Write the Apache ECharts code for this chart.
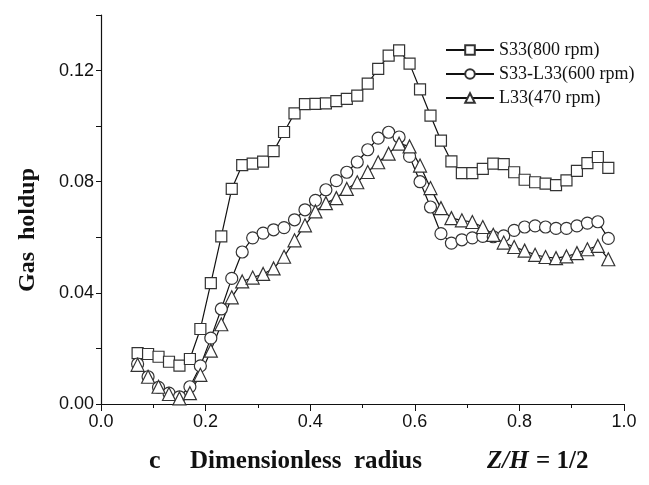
<!DOCTYPE html>
<html>
<head>
<meta charset="utf-8">
<script src="https://cdn.jsdelivr.net/npm/echarts@6/dist/echarts.min.js"></script>
<style>
  html, body { margin: 0; padding: 0; background: #fff; }
  #chart { width: 649px; height: 485px; }
</style>
</head>
<body>
<div id="chart"></div>
<script>
// Dimensionless radius (x) values, every 0.02
const radius = [0.07, 0.09, 0.11, 0.13, 0.15, 0.17, 0.19, 0.21, 0.23, 0.25,
  0.27, 0.29, 0.31, 0.33, 0.35, 0.37, 0.39, 0.41, 0.43, 0.45,
  0.47, 0.49, 0.51, 0.53, 0.55, 0.57, 0.59, 0.61, 0.63, 0.65,
  0.67, 0.69, 0.71, 0.73, 0.75, 0.77, 0.79, 0.81, 0.83, 0.85,
  0.87, 0.89, 0.91, 0.93, 0.95, 0.97];

// Gas holdup - S33(800 rpm)
const s33 = [0.0183, 0.0180, 0.0170, 0.0152, 0.0138, 0.0162, 0.0270, 0.0435, 0.0603, 0.0774,
  0.0860, 0.0865, 0.0872, 0.0910, 0.0979, 0.1046, 0.1079, 0.1080, 0.1082, 0.1090,
  0.1098, 0.1110, 0.1153, 0.1206, 0.1254, 0.1273, 0.1225, 0.1132, 0.1038, 0.0948,
  0.0873, 0.0831, 0.0831, 0.0846, 0.0865, 0.0863, 0.0834, 0.0807, 0.0798, 0.0793,
  0.0788, 0.0805, 0.0839, 0.0867, 0.0889, 0.0850];

// Gas holdup - S33-L33(600 rpm)
const s33l33 = [0.0144, 0.0098, 0.0060, 0.0039, 0.0026, 0.0062, 0.0137, 0.0237, 0.0342, 0.0452,
  0.0547, 0.0598, 0.0615, 0.0627, 0.0635, 0.0663, 0.0699, 0.0733, 0.0771, 0.0804,
  0.0834, 0.0871, 0.0915, 0.0957, 0.0978, 0.0961, 0.0891, 0.0800, 0.0709, 0.0613,
  0.0579, 0.0591, 0.0598, 0.0603, 0.0602, 0.0605, 0.0625, 0.0637, 0.0641, 0.0637,
  0.0632, 0.0632, 0.0641, 0.0651, 0.0656, 0.0596];

// Gas holdup - L33(470 rpm)
const l33 = [0.0141, 0.0098, 0.0062, 0.0036, 0.0020, 0.0039, 0.0105, 0.0192, 0.0287, 0.0384,
  0.0441, 0.0455, 0.0468, 0.0488, 0.0530, 0.0589, 0.0643, 0.0693, 0.0723, 0.0741,
  0.0774, 0.0798, 0.0835, 0.0870, 0.0901, 0.0937, 0.0927, 0.0858, 0.0777, 0.0705,
  0.0669, 0.0661, 0.0655, 0.0637, 0.0609, 0.0581, 0.0565, 0.0552, 0.0537, 0.0529,
  0.0525, 0.0531, 0.0543, 0.0557, 0.0569, 0.0521];

const seriesNames = ["S33(800 rpm)", "S33-L33(600 rpm)", "L33(470 rpm)"];

function pairs(ys) {
  return radius.map((x, i) => [x, ys[i]]);
}

function makeSeries(name, ys, symbol, size) {
  return {
    name: name,
    type: "line",
    data: pairs(ys),
    symbol: symbol,
    symbolSize: size,
    showAllSymbol: true,
    lineStyle: { color: "#111", width: 1.2 },
    itemStyle: { color: "#fff", borderColor: "#333", borderWidth: 1.2 },
    emphasis: { disabled: true }
  };
}

const chart = echarts.init(document.getElementById("chart"));
chart.setOption({
  animation: false,
  backgroundColor: "#fff",
  grid: { left: 101, right: 25, top: 15, bottom: 81 },
  legend: {
    orient: "vertical",
    left: 440,
    top: 36,
    itemWidth: 48,
    itemHeight: 12,
    itemGap: 6,
    data: seriesNames,
    textStyle: { fontFamily: "Liberation Serif", fontSize: 18, color: "#111" }
  },
  xAxis: {
    type: "value",
    min: 0,
    max: 1.0,
    interval: 0.2,
    axisLine: { lineStyle: { color: "#111", width: 1.2 } },
    axisTick: { length: 7, lineStyle: { color: "#111" } },
    minorTick: { show: true, splitNumber: 2, length: 4, lineStyle: { color: "#111" } },
    splitLine: { show: false },
    axisLabel: {
      fontFamily: "Liberation Sans", fontSize: 18, color: "#111", margin: 9,
      formatter: v => v.toFixed(1)
    }
  },
  yAxis: {
    type: "value",
    min: 0,
    max: 0.14,
    interval: 0.02,
    axisLine: { lineStyle: { color: "#111", width: 1.2 } },
    axisTick: { length: 5, lineStyle: { color: "#111" } },
    splitLine: { show: false },
    axisLabel: {
      fontFamily: "Liberation Sans", fontSize: 18, color: "#111", margin: 7,
      formatter: v => (Math.round(v * 100) % 4 === 0 && v < 0.135) ? v.toFixed(2) : ""
    }
  },
  graphic: [
    { type: "text", x: 28, y: 230, rotation: Math.PI / 2,
      style: { text: "Gas  holdup", font: "bold 24px 'Liberation Serif'", fill: "#111",
               align: "center", verticalAlign: "middle" } },
    { type: "text", left: 149, top: 448,
      style: { text: "c", font: "bold 26px 'Liberation Serif'", fill: "#111" } },
    { type: "text", left: 190, top: 449,
      style: { text: "Dimensionless  radius", font: "bold 25px 'Liberation Serif'", fill: "#111" } },
    { type: "text", left: 487, top: 449,
      style: { text: "Z/H", font: "italic bold 25px 'Liberation Serif'", fill: "#111" } },
    { type: "text", left: 536, top: 449,
      style: { text: "= 1/2", font: "bold 25px 'Liberation Serif'", fill: "#111" } }
  ],
  series: [
    makeSeries(seriesNames[0], s33, "rect", 11),
    makeSeries(seriesNames[1], s33l33, "circle", 12),
    makeSeries(seriesNames[2], l33, "triangle", 13)
  ]
});
</script>
</body>
</html>
